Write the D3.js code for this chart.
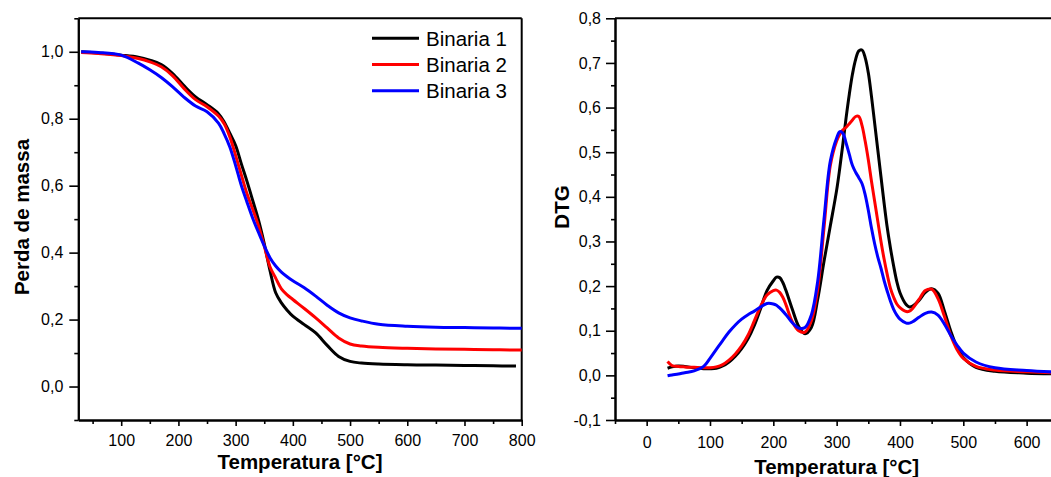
<!DOCTYPE html>
<html>
<head>
<meta charset="utf-8">
<script src="https://cdnjs.cloudflare.com/ajax/libs/d3/7.8.5/d3.min.js"></script>
<style>
    body { margin: 0; background: #fff; }
    svg text { font-family: "Liberation Sans", Arial, sans-serif; fill: #000; }
    .axis-title { font-weight: bold; font-size: 20.5px; }
    .tick text { font-size: 16px; }
    .legend text { font-size: 20.5px; }
</style>
</head>
<body>
<svg id="chart" width="1051" height="477"></svg>
<script>
// series names and colours
var seriesNames = ['Binaria 1', 'Binaria 2', 'Binaria 3'];
var seriesColors = ['#000000', '#ff0000', '#0000ff'];

// TG curves (mass loss vs temperature)
var tgTemp = [30, 60, 100, 130, 150, 170, 190, 210, 230, 250, 270, 280, 290, 300, 310, 320,
              330, 340, 350, 360, 370, 380, 390, 400, 420, 440, 460, 480, 500, 520, 550,
              600, 650, 700, 750, 790, 800];
var tgBin1 = [1.0, 0.996, 0.99, 0.984, 0.975, 0.962, 0.935, 0.898, 0.865, 0.842, 0.815, 0.79,
              0.756, 0.72, 0.665, 0.612, 0.555, 0.497, 0.427, 0.347, 0.28, 0.25, 0.228, 0.21,
              0.185, 0.16, 0.123, 0.09, 0.075, 0.07, 0.067, 0.065, 0.064, 0.063, 0.062, 0.061, null];
var tgBin2 = [0.998, 0.995, 0.989, 0.98, 0.97, 0.955, 0.928, 0.89, 0.857, 0.836, 0.808, 0.785,
              0.745, 0.69, 0.632, 0.575, 0.529, 0.48, 0.42, 0.358, 0.324, 0.292, 0.274, 0.26,
              0.233, 0.205, 0.175, 0.145, 0.127, 0.121, 0.117, 0.114, 0.112, 0.111, 0.11, 0.109, 0.109];
var tgBin3 = [1.0, 0.998, 0.99, 0.966, 0.946, 0.923, 0.895, 0.864, 0.838, 0.821, 0.787, 0.755,
              0.715, 0.66, 0.6, 0.55, 0.502, 0.46, 0.42, 0.385, 0.36, 0.342, 0.328, 0.316,
              0.295, 0.27, 0.243, 0.22, 0.205, 0.196, 0.186, 0.18, 0.177, 0.176, 0.175, 0.174, 0.174];

// DTG curves
var dtgTemp = [33, 40, 50, 60, 75, 90, 100, 110, 120, 130, 140, 150, 160, 170, 180, 190,
               200, 205, 210, 215, 220, 230, 240, 250, 260, 270, 280, 290, 300, 305, 310,
               315, 320, 325, 330, 335, 340, 345, 350, 355, 360, 365, 370, 375, 380, 385,
               390, 395, 400, 410, 415, 420, 430, 440, 450, 460, 470, 480, 490, 500, 520,
               550, 600, 650];
var dtgBin1 = [0.016, 0.019, 0.021, 0.02, 0.017, 0.015, 0.015, 0.016, 0.021, 0.03, 0.043, 0.06,
               0.082, 0.112, 0.15, 0.19, 0.212, 0.22, 0.219, 0.208, 0.19, 0.148, 0.11, 0.093,
               0.107, 0.17, 0.255, 0.335, 0.415, 0.465, 0.52, 0.578, 0.63, 0.675, 0.708, 0.727,
               0.729, 0.712, 0.678, 0.625, 0.565, 0.505, 0.445, 0.385, 0.33, 0.285, 0.245, 0.21,
               0.185, 0.158, 0.153, 0.155, 0.168, 0.186, 0.194, 0.184, 0.145, 0.1, 0.063, 0.04,
               0.018, 0.009, 0.005, 0.003];
var dtgBin2 = [0.031, 0.022, 0.02, 0.019, 0.018, 0.017, 0.017, 0.019, 0.024, 0.034, 0.048, 0.066,
               0.09, 0.122, 0.155, 0.18, 0.19, 0.191, 0.186, 0.175, 0.158, 0.12, 0.1, 0.097,
               0.122, 0.192, 0.33, 0.47, 0.525, 0.54, 0.55, 0.556, 0.564, 0.572, 0.58, 0.58,
               0.56, 0.525, 0.483, 0.435, 0.39, 0.345, 0.3, 0.26, 0.225, 0.195, 0.175, 0.16,
               0.152, 0.143, 0.144, 0.15, 0.17, 0.19, 0.193, 0.172, 0.133, 0.09, 0.058, 0.038,
               0.02, 0.012, 0.008, 0.005];
var dtgBin3 = [-0.001, 0.001, 0.003, 0.006, 0.01, 0.02, 0.038, 0.058, 0.078, 0.097, 0.113, 0.126,
               0.136, 0.144, 0.153, 0.161, 0.16, 0.157, 0.151, 0.144, 0.136, 0.118, 0.106, 0.107,
               0.135, 0.21, 0.35, 0.48, 0.532, 0.546, 0.542, 0.52, 0.495, 0.47, 0.455, 0.443,
               0.43, 0.405, 0.37, 0.33, 0.295, 0.265, 0.24, 0.212, 0.188, 0.166, 0.148, 0.135,
               0.126, 0.117, 0.117, 0.12, 0.13, 0.139, 0.142, 0.135, 0.115, 0.09, 0.068, 0.05,
               0.03, 0.017, 0.011, 0.007];

// tick values
var tgXMajor = [100, 200, 300, 400, 500, 600, 700, 800];
var tgXMinor = [50, 150, 250, 350, 450, 550, 650, 750];
var tgYMajor = [0.0, 0.2, 0.4, 0.6, 0.8, 1.0];
var tgYMinor = [-0.1, 0.1, 0.3, 0.5, 0.7, 0.9, 1.1];
var dtgXMajor = [0, 100, 200, 300, 400, 500, 600];
var dtgXMinor = [-50, 50, 150, 250, 350, 450, 550, 650];
var dtgYMajor = [-0.1, 0.0, 0.1, 0.2, 0.3, 0.4, 0.5, 0.6, 0.7, 0.8];
var dtgYMinor = [-0.05, 0.05, 0.15, 0.25, 0.35, 0.45, 0.55, 0.65, 0.75];

var svg = d3.select('#chart');

function commaFormat(d) {
    /* decimal comma, plain hyphen for negatives */
    var s = Math.abs(d).toFixed(1).replace('.', ',');
    return (d < -1e-9 ? '-' : '') + s;
}

function zipSeries(temps, values) {
    var out = [];
    for (var i = 0; i < temps.length; i++) {
        out.push([temps[i], values[i]]);
    }
    return out;
}

function drawPanel(cfg) {
    /*
    Draws one panel: axes with major/minor ticks, frame, curves.

    cfg: object with the scales, tick arrays, series and titles
    */
    var x = d3.scaleLinear().domain(cfg.xDomain).range([cfg.left, cfg.right]);
    var y = d3.scaleLinear().domain(cfg.yDomain).range([cfg.bottom, cfg.top]);
    var g = svg.append('g');

    // frame lines (top and right)
    g.append('line')
        .attr('x1', cfg.left).attr('x2', cfg.right)
        .attr('y1', cfg.top).attr('y2', cfg.top)
        .attr('stroke', '#000').attr('stroke-width', 2);
    g.append('line')
        .attr('x1', cfg.right).attr('x2', cfg.right)
        .attr('y1', cfg.top).attr('y2', cfg.bottom)
        .attr('stroke', '#000').attr('stroke-width', 2);

    // minor ticks first
    g.append('g')
        .attr('transform', 'translate(0,' + cfg.bottom + ')')
        .call(d3.axisBottom(x).tickValues(cfg.xMinor).tickSize(4).tickSizeOuter(0).tickFormat(''));
    g.append('g')
        .attr('transform', 'translate(' + cfg.left + ',0)')
        .call(d3.axisLeft(y).tickValues(cfg.yMinor).tickSize(4).tickSizeOuter(0).tickFormat(''));

    // major ticks with labels
    g.append('g')
        .attr('transform', 'translate(0,' + cfg.bottom + ')')
        .call(d3.axisBottom(x).tickValues(cfg.xMajor).tickSize(6).tickSizeOuter(0)
              .tickPadding(cfg.xPad).tickFormat(d3.format('d')));
    g.append('g')
        .attr('transform', 'translate(' + cfg.left + ',0)')
        .call(d3.axisLeft(y).tickValues(cfg.yMajor).tickSize(9).tickSizeOuter(0)
              .tickPadding(cfg.yPad).tickFormat(commaFormat));

    g.selectAll('.domain').attr('stroke-width', 2);
    g.selectAll('.tick line').attr('stroke-width', 1.6);
    g.selectAll('.tick text').attr('fill', '#000');

    // curves
    var line = d3.line()
        .defined(function(d) { return d[1] !== null; })
        .x(function(d) { return x(d[0]); })
        .y(function(d) { return y(d[1]); })
        .curve(d3.curveCatmullRom.alpha(0.5));

    cfg.series.forEach(function(s, i) {
        g.append('path')
            .datum(zipSeries(cfg.temps, s))
            .attr('fill', 'none')
            .attr('stroke', seriesColors[i])
            .attr('stroke-width', 3)
            .attr('stroke-linejoin', 'round')
            .attr('d', line);
    });

    // axis titles
    g.append('text')
        .attr('class', 'axis-title')
        .attr('text-anchor', 'middle')
        .attr('x', (cfg.left + cfg.right) / 2)
        .attr('y', cfg.xTitleY)
        .text(cfg.xTitle);
    g.append('text')
        .attr('class', 'axis-title')
        .attr('text-anchor', 'middle')
        .attr('transform', 'translate(' + cfg.yTitleX + ',' + cfg.yTitleY + ') rotate(-90)')
        .text(cfg.yTitle);

    return g;
}

drawPanel({
    xDomain: [25, 800], yDomain: [-0.1, 1.1],
    left: 78.3, right: 521.7, top: 18.3, bottom: 420,
    xMajor: tgXMajor, xMinor: tgXMinor, yMajor: tgYMajor, yMinor: tgYMinor,
    xPad: 8.5, yPad: 6,
    temps: tgTemp, series: [tgBin1, tgBin2, tgBin3],
    xTitle: 'Temperatura [°C]', xTitleY: 469,
    yTitle: 'Perda de massa', yTitleX: 29, yTitleY: 217
});

drawPanel({
    xDomain: [-50, 650], yDomain: [-0.1, 0.8],
    left: 615, right: 1058.3, top: 18.3, bottom: 420,
    xMajor: dtgXMajor, xMinor: dtgXMinor, yMajor: dtgYMajor, yMinor: dtgYMinor,
    xPad: 11, yPad: 5,
    temps: dtgTemp, series: [dtgBin1, dtgBin2, dtgBin3],
    xTitle: 'Temperatura [°C]', xTitleY: 473.5,
    yTitle: 'DTG', yTitleX: 569, yTitleY: 207
});

// legend in the TG panel
var legend = svg.append('g').attr('class', 'legend');
seriesNames.forEach(function(name, i) {
    var ly = 38.3 + i * 26.2;
    legend.append('line')
        .attr('x1', 372).attr('x2', 419)
        .attr('y1', ly).attr('y2', ly)
        .attr('stroke', seriesColors[i])
        .attr('stroke-width', 3);
    legend.append('text')
        .attr('x', 426)
        .attr('y', ly + 7.5)
        .text(name);
});
</script>
</body>
</html>
